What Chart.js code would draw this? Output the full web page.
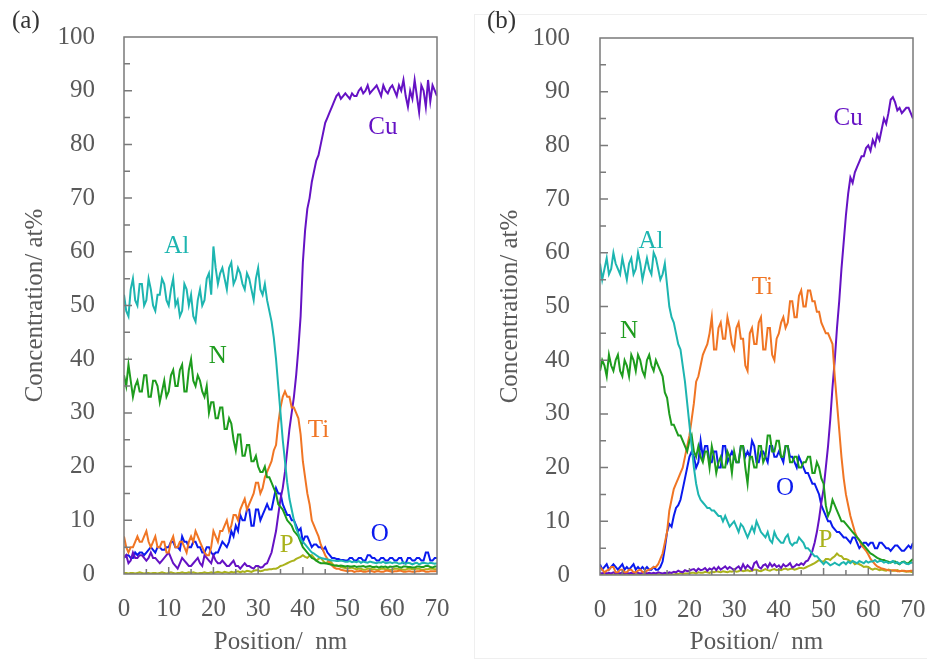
<!DOCTYPE html>
<html>
<head>
<meta charset="utf-8">
<script src="https://cdn.jsdelivr.net/npm/chart.js@4.4.0/dist/chart.umd.min.js"></script>
<style>
  body { margin: 0; background: #fff; }
  #wrap { position: relative; width: 927px; height: 659px; overflow: hidden; }
  canvas { position: absolute; top: 0; }
  .tag { position: absolute; top: 7px; font: 25px 'Liberation Serif', serif; line-height: 25px; color: #333; }
  #frame-b { position: absolute; left: 474px; top: 14px; width: 470px; height: 643px; border: 1px solid #efefef; }
</style>
</head>
<body>
<div id="wrap">
  <div id="frame-b"></div>
  <canvas id="chart-a" width="463" height="659" style="left:0"></canvas>
  <canvas id="chart-b" width="464" height="659" style="left:463px"></canvas>
  <div class="tag" style="left:12px">(a)</div>
  <div class="tag" style="left:487px">(b)</div>
</div>
<script>
// position along the depth profile, nm
var positions = [
  0,0.5,1,1.5,2,2.5,3,3.5,4,4.5, 5,5.5,6,6.5,7,7.5,8,8.5,9,9.5,
  10,10.5,11,11.5,12,12.5,13,13.5,14,14.5, 15,15.5,16,16.5,17,17.5,18,18.5,19,19.5,
  20,20.5,21,21.5,22,22.5,23,23.5,24,24.5, 25,25.5,26,26.5,27,27.5,28,28.5,29,29.5,
  30,30.5,31,31.5,32,32.5,33,33.5,34,34.5, 35,35.5,36,36.5,37,37.5,38,38.5,39,39.5,
  40,40.5,41,41.5,42,42.5,43,43.5,44,44.5, 45,45.5,46,46.5,47,47.5,48,48.5,49,49.5,
  50,50.5,51,51.5,52,52.5,53,53.5,54,54.5, 55,55.5,56,56.5,57,57.5,58,58.5,59,59.5,
  60,60.5,61,61.5,62,62.5,63,63.5,64,64.5, 65,65.5,66,66.5,67,67.5,68,68.5,69,69.5,
  70];
var xTicks = [0, 10, 20, 30, 40, 50, 60, 70];
var yTicks = [0, 10, 20, 30, 40, 50, 60, 70, 80, 90, 100];

// panel (a), at%
var alA = [
  52,49,48,53,55,51,50,54,54,50, 51,55,53,50,49,52,52,55,54,51,
  50,53,55,50,51,48,49,54,53,50, 52,48,47,51,53,50,51,55,56,52,
  61,57,54,56,57,55,53,57,58,54, 55,57,56,54,53,56,55,53,51,55,
  57,53,52,54,51,49,47,44,40,35, 30,25,21,17,14,12,10,8.5,7.5,6.5,
  6,5.5,5,4.5,4,3.8,3.5,3.2,3,2.9, 2.8,2.7,2.6,2.5,2.5,2.4,2.4,2.5,2.4,2.3,
  2.3,2.4,2.2,2.3,2.2,2.4,2.1,2.3,2.2,2.1, 2.3,2.2,2.1,2,2.2,2.1,2.3,2,2.1,2.2,
  2,2.2,2.1,1.9,2,2.2,1.9,2.1,2,1.8, 2,2.1,1.8,2,2.1,2,1.9,2.1,2,1.9,
  2];
var nA = [
  37,35,39,36,33,35,36,34,34,37, 37,33,33,36,36,35,32,34,36,33,
  34,37,38,35,35,38,39,34,34,38, 40,36,35,37,36,34,33,35,30,32,
  32,29,29,31,31,27,27,29,28,25, 23,26,26,22,22,24,24,21,21,22,
  20,19,19,20,18,18,17,16,15,13, 12.5,12,11,10,9.5,9,8,7.5,7,6,
  5,4.5,4,3.5,3,2.8,2.5,2.2,2,2, 2,1.9,1.8,1.7,1.6,1.6,1.5,1.6,1.5,1.4,
  1.5,1.4,1.4,1.5,1.3,1.4,1.4,1.5,1.3,1.4, 1.5,1.3,1.3,1.4,1.2,1.4,1.3,1.4,1.2,1.4,
  1.3,1.4,1.5,1.3,1.2,1.4,1.4,1.3,1.3,1.2, 1.2,1.4,1.4,1.3,1.3,1.5,1.5,1.3,1.2,1.4,
  1.4];
var tiA = [
  7,5,4,5,5,6,7,6,6,7, 8,6,5,6,7,5,5,6,6,4,
  4,6,7,5,5,6,6,5,4,6, 7,6,8,7,6,5,4,3.5,3.5,5,
  8,7,6,8,8,9,10,8,9,11, 11,10,12,13,14,12,13,14,15,17,
  17,15,16,18,19,20,21,23,24,28, 31,33,34,33,33,31,31,30,29,26,
  21,18,15,13,10,9,8,7,5.5,4.5, 3.5,2.8,2,1.6,1.2,1,1,0.8,0.7,0.6,
  0.5,0.6,0.6,0.4,0.5,0.5,0.6,0.4,0.4,0.5, 0.6,0.5,0.4,0.5,0.5,0.4,0.4,0.6,0.6,0.5,
  0.4,0.5,0.5,0.6,0.6,0.4,0.4,0.5,0.5,0.4, 0.4,0.5,0.5,0.6,0.6,0.4,0.4,0.5,0.5,0.5,
  0.5];
var cuA = [
  3,3.5,2,2.5,4,3,3,3.5,3.5,3, 2.5,3,4,3,3,2.5,2,2.5,3,3.5,
  4,3,2,1.5,1,2,3,2.5,2,1.5, 1.5,2,2.5,3,2,1.5,3.5,3,2.5,2,
  3.5,2.5,2,2,2.5,2,1.5,1.5,2,2.5, 1.5,1.5,1,1.5,2,1.5,1.5,1.2,1,1.5,
  1.5,1.2,1.3,1.8,2,3,4,6,8,11, 14,16,19,23,27,30,33,37,42,48,
  58,64,68,70,73,75,77,78,80,82, 84,85,86,87,88,89,89.5,88.5,89,89.5,
  89,88.5,89.5,89,89,90,90.5,89.5,90,91, 89.5,90,90.5,91,90,89,91,90,89.5,90.5,
  91,90,89,91,90,92,89,87,90,88.5, 92,89,86,91,90,87,92,88,91,90,
  89];
var oA = [
  3,3.5,3.5,3,3,4,3.5,4,4,3.5, 4,4.5,5,4.5,4,5,5,4.5,4.5,5,
  5,6,6,5,5,4.5,7,6,6,5, 5,6,6,5,5,4,4,5,5,4,
  3.5,4,4,5,6,5.5,5,6,8,7, 9,8,11,10,10,12,12,9,9,12,
  12,10,11,12,13,12,12,14,16,15, 15,13,12,11,11,10,10,9,8,8.5,
  6,7,7,6,5,5.5,5.5,5,5,4.5, 5,4,3.5,3,3,2.8,2.8,2.6,2.6,2.5,
  2.5,3,3,2.5,2.5,3,3,2.5,2.5,3.5, 3.5,3,3,2.5,2.5,3,3,2.5,2.5,3,
  3,2.5,2.5,3,3,2,2,3,3,2.5, 2.5,3,3,2.5,2.5,4,4,2.5,2.5,3,
  3];
var pA = [
  0.2,0.2,0.1,0.2,0.2,0.1,0.2,0.3,0.2,0.1, 0.2,0.2,0.1,0.2,0.2,0.1,0.2,0.3,0.2,0.1,
  0.2,0.3,0.2,0.1,0.2,0.2,0.3,0.2,0.2,0.3, 0.2,0.3,0.2,0.1,0.2,0.2,0.3,0.2,0.2,0.3,
  0.2,0.3,0.4,0.3,0.2,0.4,0.3,0.2,0.4,0.3, 0.4,0.5,0.3,0.5,0.4,0.6,0.5,0.4,0.6,0.7,
  0.7,0.5,0.6,0.8,0.8,0.9,0.9,1,1,1.2, 1.5,1.6,1.8,2,2.2,2.4,2.5,2.8,3,3.2,
  3.5,3.2,3,3.4,3.5,3,2.5,2.8,3,2.5, 2,2.2,2.5,2,1.5,1.6,1.5,1.3,1.2,1.1,
  1,1.1,1.2,1,0.9,1,1,0.8,0.8,1, 1,0.9,0.9,0.8,0.8,1,1,0.9,0.9,0.8,
  0.8,1,1,0.9,0.9,0.8,0.8,1,1,0.9, 0.9,1,1,0.8,0.8,0.9,0.9,1,1,0.9,
  0.9];

// panel (b), at%
var alB = [
  58,55,57,59,56,57,60,58,57,56, 59,57,55,58,59,56,57,60,58,55,
  57,59,57,56,60,59,57,55,56,58, 54,50,48,47,45,43,42,39,36,32,
  28,24,20,17,15,14,13.5,13,12.5,12.5, 12,12,11.5,11,11,10,11,10,9,9.5,
  10,9,8,9.5,9,8,7,8,9,8, 10,9,8,7.5,7,8,6.5,6,8,7,
  6.5,6,6,7,7.5,6,5.5,6,6,7, 6.5,6,5,5,4.5,4,3.5,3.5,3,2.5,
  2,2.5,2.2,1.8,2,2.3,2,1.8,2.2,2.4, 2,2.5,2.2,2.6,2.4,2.2,2.6,2.4,2.2,2.6,
  2.3,2.5,2.5,2.8,2.4,2.6,2.6,2.3,2.5,2.2, 2.4,2.6,2.2,2.4,2.1,2.3,2.4,2.1,2,2.3,
  2.3];
var nB = [
  38,40,39,37,41,39,38,40,41,38, 37,40,39,37,41,40,38,41,40,38,
  37,40,41,39,38,40,39,38,37,34, 33,30,28,28,27,26,26,25,24,23,
  25,26,23,22,24,22,21,23,23,20, 24,22,19,21,22,20,20,23,22,19,
  23,21,21,24,24,20,17,22,22,20, 20,24,24,21,22,26,26,23,23,25,
  25,22,22,24,24,21,21,22,22,20, 20,21,21,22,22,19,19,21,20,18,
  17,13,11,12,14,13,12,11,10,10, 9.5,9,8.5,8,7.5,7,6.5,6,5.5,5,
  4.5,4,3.8,3.5,3.2,3,2.8,2.8,2.6,2.5, 2.3,2.5,2.5,2.2,2,2.4,2.5,2.2,2.2,2.6,
  3];
var tiB = [
  1.5,1,0.5,0.8,1,1.5,1.5,0.5,0.5,1, 1,0.5,0.5,1,1,0.5,0.5,0.8,1,0.6,
  0.5,0.8,1,1.2,1.5,1.5,2,3,4,6, 8,12,14,16,17,18,19,20,22,24,
  26,29,32,36,37,39,41,42,43,45, 48,42,42,46,47,44,44,48,46,43,
  42,46,47,44,44,39,38,45,46,43, 43,47,48,42,42,46,46,41,40,44,
  45,47,48,46,47,51,51,48,48,52, 53,50,50,53,53,51,51,49,49,47,
  46,45,45,44,43,37,32,27,22,18, 15,13,11,9.5,8,7,6.5,5.5,5,4.5,
  3.8,3,2.5,2,1.6,1.4,1.2,1.1,1,0.9, 0.8,0.9,0.9,0.7,0.7,0.8,0.8,0.7,0.7,0.8,
  0.8];
var cuB = [
  0.4,0.3,0.5,0.3,0.4,0.3,0.5,0.3,0.4,0.3, 0.5,0.3,0.4,0.3,0.4,0.3,0.5,0.4,0.3,0.4,
  0.5,0.3,0.4,0.3,0.4,0.3,0.5,0.4,0.3,0.4, 0.3,0.5,0.4,0.6,0.5,0.8,0.6,0.5,0.9,0.7,
  0.8,1,1.1,0.7,1.2,0.9,1,1.3,0.8,1.2, 1,1.4,0.9,1.5,1,1.3,1.6,1.1,1.5,1.2,
  0.9,1.3,1.6,1,2,1.2,1.8,1.4,1,2.2, 2.5,1.5,1.2,1.8,2,1.4,2.2,1.6,2,1.5,
  1.8,1.3,2,1.6,1.8,2.2,1.4,1.6,2,1.8, 2.2,1.9,2.5,2.7,3.5,4.5,6,8,10.5,13.5,
  16,20,24,29,35,40,46,51,57,62, 67,71,74,73,75,76,77,78,78,79.5,
  80,79,81,80,82,81,83,85,84,86, 88.5,89,88,86.5,87,86,86.5,87,87,86,
  85];
var oB = [
  2,1,1.5,2,1,1.5,2,1.5,1,1.5, 2,1,1.5,1,1.5,2,1,1.5,1,1.5,
  1,1.5,1,1,1.5,1,1,1.5,2.5,5, 8,9.5,9,11,12.5,13,14,16,18,20,
  22,23,22,20,21,25,22,24,24,21, 21,23,23,20,20,24,24,21,22,23,
  22,21,21,24,24,22,23,22,25,24, 21,21,23,23,22,21,24,24,22,22,
  23,22,21,24,24,22,22,21,20,22, 21,20,19,19,18,17,17,16,15,13,
  12,11,10,10,9,8.5,8,8,7.5,7, 7,6.5,6,7,7,6,5,5.5,6,6,
  5.5,6,6,5,5,6,6,5.5,5,5, 4.5,5,5.5,5.5,5,4.5,4.5,5,5.5,5,
  6];
var pB = [
  0.1,0.1,0.2,0.1,0.1,0.2,0.1,0.1,0.2,0.1, 0.1,0.2,0.1,0.1,0.2,0.1,0.1,0.2,0.1,0.1,
  0.2,0.1,0.1,0.2,0.1,0.1,0.2,0.1,0.1,0.2, 0.1,0.2,0.1,0.1,0.2,0.2,0.3,0.2,0.3,0.3,
  0.3,0.4,0.4,0.3,0.5,0.4,0.4,0.6,0.5,0.4, 0.6,0.5,0.7,0.6,0.5,0.7,0.6,0.5,0.7,0.6,
  0.8,0.6,0.7,0.9,0.7,0.8,0.9,0.7,0.8,1, 1,0.8,0.7,0.9,1.1,0.9,0.8,1,1.1,0.9,
  1,0.9,1.1,1.2,1,1.1,1.2,1,1.1,1.3, 1.3,1.2,1.4,1.6,1.8,2,2.2,2.5,2.8,2.5,
  2.5,3,3,2.8,3.2,3.5,4,3.6,3.5,3, 3,2.8,2.5,2.5,2,2.2,2,1.8,1.5,1.6,
  1.5,1.2,1,1.2,1.1,0.9,1,0.9,0.8,1, 0.9,0.8,0.8,0.9,0.7,0.8,0.7,0.6,0.7,0.6,
  0.5];

// element label anchors in data units: [text, position, concentration]
var labelsA = [['Al', 11.8, 61], ['N', 21, 40.6], ['Ti', 43.5, 26.8], ['Cu', 57.9, 83.2], ['O', 57.2, 7.3], ['P', 36.4, 5.3]];
var labelsB = [['Al', 11.4, 62.2], ['N', 6.5, 45.4], ['Ti', 36.3, 53.6], ['Cu', 55.5, 85.1], ['O', 41.4, 16.2], ['P', 50.4, 6.5]];

var colors = { Al: '#1db5b0', N: '#1e9c1e', Ti: '#f07524', Cu: '#6512c4', O: '#0a1aee', P: '#aab21c' };
var serif = "'Liberation Serif', 'Times New Roman', serif";
var textGray = '#595959';

function pts(arr) {
  return arr.map((y, i) => ({ x: positions[i], y: y }));
}

// frame, inward ticks and the element names
var panelDecor = {
  id: 'panelDecor',
  afterDatasetsDraw(chart, args, opts) {
    var ctx = chart.ctx, a = chart.chartArea;
    var xs = chart.scales.x, ys = chart.scales.y;
    ctx.save();
    ctx.strokeStyle = '#7a7a7a';
    ctx.lineWidth = 1.5;
    ctx.strokeRect(a.left, a.top, a.right - a.left, a.bottom - a.top);
    ctx.beginPath();
    for (var v = 5; v < 100; v += 5) {
      var py = ys.getPixelForValue(v);
      ctx.moveTo(a.left, py);
      ctx.lineTo(a.left + (v % 10 === 0 ? 8 : 6), py);
    }
    for (var u = 5; u < 70; u += 5) {
      var px = xs.getPixelForValue(u);
      ctx.moveTo(px, a.bottom);
      ctx.lineTo(px, a.bottom - (u % 10 === 0 ? 7 : 5));
    }
    ctx.stroke();
    ctx.font = '25px ' + serif;
    ctx.textAlign = 'center';
    ctx.textBaseline = 'middle';
    opts.names.forEach(n => {
      ctx.fillStyle = colors[n[0]];
      ctx.fillText(n[0], xs.getPixelForValue(n[1]), ys.getPixelForValue(n[2]));
    });
    ctx.restore();
  }
};

function makePanel(id, series, names, lay) {
  return new Chart(document.getElementById(id).getContext('2d'), {
    type: 'line',
    data: {
      datasets: ['Al', 'N', 'Ti', 'Cu', 'O', 'P'].map((k, i) => ({
        label: k,
        data: pts(series[i]),
        borderColor: colors[k],
        borderWidth: 2,
        pointRadius: 0,
        tension: 0,
        fill: false
      }))
    },
    options: {
      responsive: false,
      animation: false,
      devicePixelRatio: 1,
      layout: { padding: { top: lay.top, right: lay.right, left: 0, bottom: 0 } },
      plugins: { legend: { display: false }, tooltip: { enabled: false }, panelDecor: { names: names } },
      scales: {
        x: {
          type: 'linear', min: 0, max: 70,
          // hidden tick marks only reserve the gap between axis and labels
          grid: { display: false, drawTicks: true, tickLength: 20 },
          border: { display: false },
          afterBuildTicks: s => { s.ticks = xTicks.map(v => ({ value: v })); },
          afterFit: s => { s.height = lay.xh; },
          ticks: { font: { family: serif, size: 25 }, color: textGray, padding: 0, maxRotation: 0 },
          title: { display: true, text: 'Position/  nm', font: { family: serif, size: 25 }, color: textGray, padding: { top: 0, bottom: 2 } }
        },
        y: {
          min: 0, max: 100,
          grid: { display: false, drawTicks: true, tickLength: lay.tp },
          border: { display: false },
          afterBuildTicks: s => { s.ticks = yTicks.map(v => ({ value: v })); },
          afterFit: s => { s.width = lay.yw; },
          ticks: { font: { family: serif, size: 25 }, color: textGray, padding: 0 },
          title: { display: true, text: 'Concentration/ at%', font: { family: serif, size: 25 }, color: textGray, padding: { top: lay.tt, bottom: 0 } }
        }
      }
    },
    plugins: [panelDecor]
  });
}

var chartA = makePanel('chart-a', [alA, nA, tiA, cuA, oA, pA], labelsA, { top: 37, right: 26, xh: 85, yw: 124, tp: 29, tt: 20 });
var chartB = makePanel('chart-b', [alB, nB, tiB, cuB, oB, pB], labelsB, { top: 38, right: 14, xh: 84, yw: 137, tp: 30, tt: 32 });
</script>
</body>
</html>
